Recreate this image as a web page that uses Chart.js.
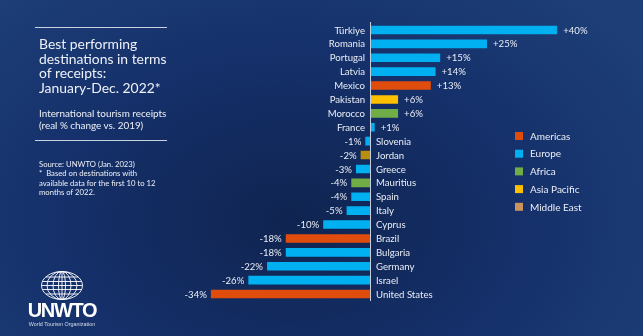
<!DOCTYPE html>
<html>
<head>
<meta charset="utf-8">
<script src="https://cdn.jsdelivr.net/npm/chart.js@4.4.1/dist/chart.umd.min.js"></script>
<style>
  html, body { margin: 0; padding: 0; }
  body {
    width: 643px; height: 336px; overflow: hidden; position: relative;
    font-family: Lato, "Open Sans", sans-serif; color: #eef1f7;
    background: radial-gradient(ellipse 420px 300px at 290px 220px, #0f2450 0%, #15306a 55%, #1d3e77 100%);
  }
  #chart { position: absolute; left: 0; top: 0; }
  .rule { position: absolute; left: 35px; width: 132px; height: 1px; background: #c9d2e3; }
  .panel { position: absolute; left: 39px; white-space: nowrap; }
  #title { top: 37px; font-size: 13.9px; line-height: 14.7px; }
  #sub { top: 107px; font-size: 9.9px; line-height: 12px; }
  #source { top: 160px; font-size: 7.7px; line-height: 9.3px; }
  #logo { position: absolute; left: 26px; top: 270px; width: 72px; text-align: center; }
  #logo .name { font-family: "Liberation Sans Narrow", "Liberation Sans", sans-serif; font-weight: bold;
    font-size: 20px; letter-spacing: -1.3px; line-height: 17px; color: #fff; margin-top: 1px; }
  #logo .full { font-family: "Liberation Sans", sans-serif; font-size: 5.4px; color: #d8deea; margin-top: 2px; }
</style>
</head>
<body>
<canvas id="chart" width="643" height="336"></canvas>

<div class="rule" style="top:27px"></div>
<div class="panel" id="title">Best performing<br>destinations in terms<br>of receipts:<br>January-Dec. 2022*</div>
<div class="panel" id="sub">International tourism receipts<br>(real % change vs. 2019)</div>
<div class="rule" style="top:140px"></div>
<div class="panel" id="source">Source: UNWTO (Jan. 2023)<br>*&nbsp; Based on destinations with<br>available data for the first 10 to 12<br>months of 2022.</div>

<div id="logo">
  <svg width="44" height="31" viewBox="0 0 44 31" style="display:block;margin:0 auto">
    <g fill="none" stroke="#fff" stroke-width="0.9">
      <ellipse cx="22" cy="15.5" rx="20.5" ry="14"/>
      <ellipse cx="22" cy="15.5" rx="15" ry="14"/>
      <ellipse cx="22" cy="15.5" rx="9" ry="14"/>
      <ellipse cx="22" cy="15.5" rx="3.5" ry="14"/>
      <line x1="22" y1="1.5" x2="22" y2="29.5"/>
      <line x1="6" y1="7" x2="38" y2="7"/>
      <line x1="2.5" y1="11.5" x2="41.5" y2="11.5"/>
      <line x1="1.5" y1="15.5" x2="42.5" y2="15.5"/>
      <line x1="2.5" y1="19.5" x2="41.5" y2="19.5"/>
      <line x1="6" y1="24" x2="38" y2="24"/>
    </g>
  </svg>
  <div class="name">UNWTO</div>
  <div class="full">World Tourism Organization</div>
</div>

<script>
// receipts, real % change vs. 2019
const countries = ['Türkiye', 'Romania', 'Portugal', 'Latvia', 'Mexico', 'Pakistan', 'Morocco', 'France',
  'Slovenia', 'Jordan', 'Greece', 'Mauritius', 'Spain', 'Italy', 'Cyprus', 'Brazil', 'Bulgaria',
  'Germany', 'Israel', 'United States'];
const changes = [40, 25, 15, 14, 13, 6, 6, 1, -1, -2, -3, -4, -4, -5, -10, -18, -18, -22, -26, -34];
const regions = ['Europe', 'Europe', 'Europe', 'Europe', 'Americas', 'Asia Pacific', 'Africa', 'Europe',
  'Europe', 'Middle East', 'Europe', 'Africa', 'Europe', 'Europe', 'Europe', 'Americas', 'Europe',
  'Europe', 'Europe', 'Americas'];

const regionNames = ['Americas', 'Europe', 'Africa', 'Asia Pacific', 'Middle East'];
const barColors = { 'Americas': '#e04c0c', 'Europe': '#00b0f0', 'Africa': '#70ad47', 'Asia Pacific': '#ffc000', 'Middle East': '#b98e0e' };
const swatchColors = { 'Americas': '#e04c0c', 'Europe': '#00b0f0', 'Africa': '#70ad47', 'Asia Pacific': '#ffc000', 'Middle East': '#c9935c' };

const labelFont = '9.6px Lato, "Open Sans", sans-serif';
const textColor = '#e9edf5';

// zero line, country names, value labels and the region key
const decorations = {
  id: 'decorations',
  afterDatasetsDraw(chart) {
    const ctx = chart.ctx;
    const area = chart.chartArea;
    const x0 = chart.scales.x.getPixelForValue(0);
    const bars = chart.getDatasetMeta(0).data;

    ctx.save();
    ctx.strokeStyle = '#c5cede';
    ctx.lineWidth = 1;
    ctx.beginPath();
    ctx.moveTo(Math.round(x0) + 0.5, area.top - 1);
    ctx.lineTo(Math.round(x0) + 0.5, area.bottom);
    ctx.stroke();

    ctx.font = labelFont;
    ctx.fillStyle = textColor;
    ctx.textBaseline = 'middle';
    bars.forEach((bar, i) => {
      const v = changes[i];
      const y = bar.y + 0.5;
      if (v >= 0) {
        ctx.textAlign = 'right';
        ctx.fillText(countries[i], x0 - 5, y);
        ctx.textAlign = 'left';
        ctx.fillText('+' + v + '%', bar.x + 6, y);
      } else {
        ctx.textAlign = 'left';
        ctx.fillText(countries[i], x0 + 6, y);
        ctx.textAlign = 'right';
        ctx.fillText(v + '%', bar.x - 4, y);
      }
    });

    // region key
    ctx.font = '10px Lato, "Open Sans", sans-serif';
    ctx.textAlign = 'left';
    regionNames.forEach((r, k) => {
      const cy = 136 + k * 17.7;
      ctx.fillStyle = swatchColors[r];
      ctx.fillRect(515, cy - 4, 8, 8);
      ctx.fillStyle = textColor;
      ctx.fillText(r, 530, cy + 0.5);
    });
    ctx.restore();
  }
};

new Chart(document.getElementById('chart'), {
  type: 'bar',
  data: {
    labels: countries,
    datasets: [{
      data: changes,
      backgroundColor: regions.map(r => barColors[r]),
      barPercentage: 0.62,
      categoryPercentage: 1
    }]
  },
  options: {
    indexAxis: 'y',
    responsive: false,
    animation: false,
    layout: { padding: { left: 182.8, right: 15.6, top: 23, bottom: 35 } },
    scales: {
      x: { display: false, min: -40, max: 55 },
      y: { display: false }
    },
    plugins: {
      legend: { display: false },
      tooltip: { enabled: false }
    }
  },
  plugins: [decorations]
});
</script>
</body>
</html>
